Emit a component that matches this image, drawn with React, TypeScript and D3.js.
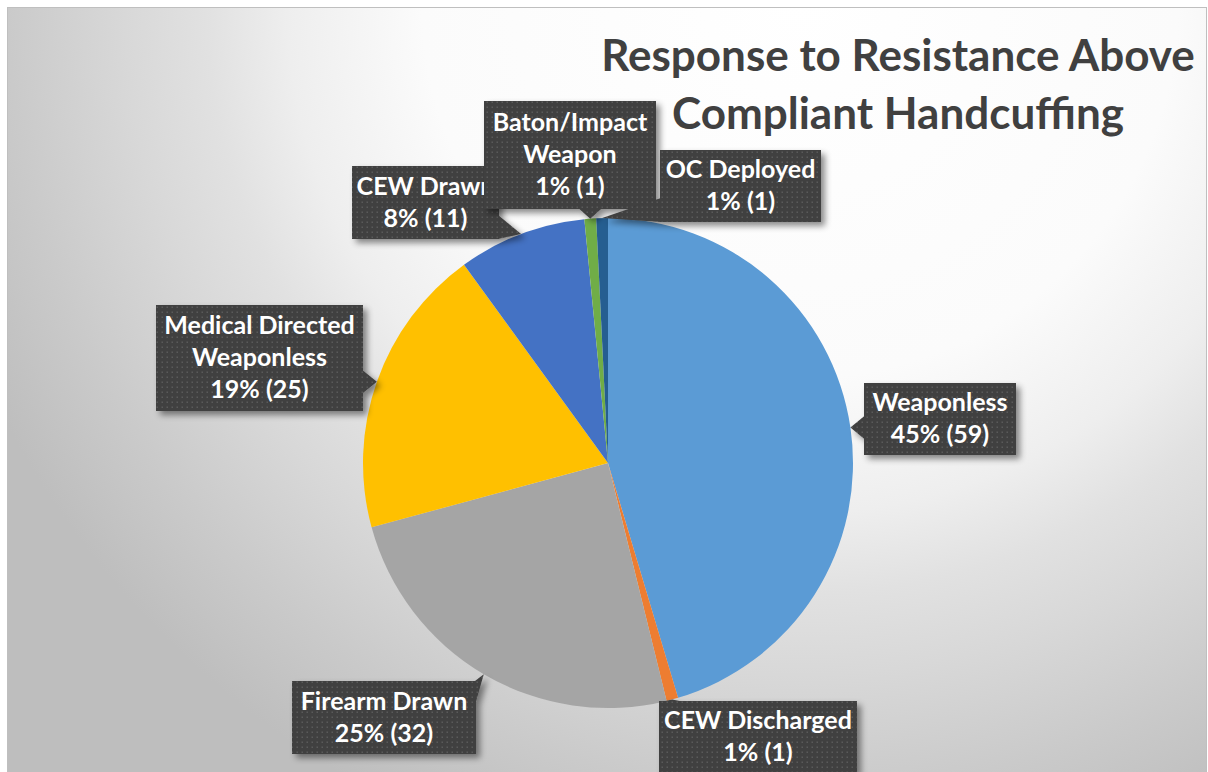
import React from 'react';
import * as d3 from 'd3';

// chart data
const categories = [
  'Weaponless',
  'CEW Discharged',
  'Firearm Drawn',
  'Medical Directed Weaponless',
  'CEW Drawn',
  'Baton/Impact Weapon',
  'OC Deployed',
];
const counts = [59, 1, 32, 25, 11, 1, 1];
const colors = ['#5B9BD5', '#ED7D31', '#A5A5A5', '#FFC000', '#4472C4', '#70AD47', '#255E91'];
// how each category name wraps inside its callout
const labelLines = [
  ['Weaponless'],
  ['CEW Discharged'],
  ['Firearm Drawn'],
  ['Medical Directed', 'Weaponless'],
  ['CEW Drawn'],
  ['Baton/Impact', 'Weapon'],
  ['OC Deployed'],
];
const titleLines = ['Response to Resistance Above', 'Compliant Handcuffing'];

// callout boxes (layout only)
const boxes = [
  { x: 864, y: 383, w: 152, h: 72 },
  { x: 659, y: 701, w: 198, h: 72 },
  { x: 292, y: 681, w: 184, h: 73 },
  { x: 156, y: 305, w: 207, h: 106 },
  { x: 352, y: 166, w: 147, h: 73, clipRight: 13 },
  { x: 484, y: 101, w: 172, h: 108 },
  { x: 660, y: 150, w: 161, h: 72 },
];

const W = 1208;
const H = 772;
const cx = 608;
const cy = 463;
const radius = 245;
const FONT = 'Lato, "Open Sans", sans-serif';
const LINE_H = 32;

// wedge from the box edge to the tip point
function calloutWedge(b: { x: number; y: number; w: number; h: number }, tx: number, ty: number) {
  const dl = b.x - tx, dr = tx - (b.x + b.w), dt = b.y - ty, db = ty - (b.y + b.h);
  const half = 12;
  const clamp = (v: number, lo: number, hi: number) => Math.max(lo, Math.min(hi, v));
  const horiz = Math.max(dl, dr);
  const vert = Math.max(dt, db);
  if (horiz >= vert) {
    const ex = dl > dr ? b.x + 1 : b.x + b.w - 1;
    const y0 = clamp(ty, b.y + half, b.y + b.h - half);
    return `M${ex},${y0 - half}L${tx},${ty}L${ex},${y0 + half}Z`;
  }
  const ey = dt > db ? b.y + 1 : b.y + b.h - 1;
  const x0 = clamp(tx, b.x + half, b.x + b.w - half);
  return `M${x0 - half},${ey}L${tx},${ty}L${x0 + half},${ey}Z`;
}

export default function App() {
  const total = d3.sum(counts);
  const pie = d3.pie<number>().sort(null).value(d => d)(counts);
  const arc = d3.arc<d3.PieArcDatum<number>>().innerRadius(0).outerRadius(radius);

  return (
    <div style={{ position: 'fixed', left: 0, top: 0 }}>
      <svg width={W} height={H} style={{ display: 'block' }}>
        <defs>
          <radialGradient id="bg" gradientUnits="userSpaceOnUse" cx={800} cy={0} r={900}>
            <stop offset="0" stopColor="#ffffff" />
            <stop offset="0.42" stopColor="#fbfbfb" />
            <stop offset="0.57" stopColor="#eeeeee" />
            <stop offset="0.66" stopColor="#e1e1e1" />
            <stop offset="0.75" stopColor="#d8d8d8" />
            <stop offset="0.88" stopColor="#cacaca" />
            <stop offset="1" stopColor="#bebebe" />
          </radialGradient>
          <pattern id="dots" patternUnits="userSpaceOnUse" width={5} height={5}>
            <rect width={5} height={5} fill="#3f3f3f" />
            <rect x={1.5} y={1.5} width={1.5} height={1.5} fill="#5a5a5a" />
          </pattern>
          <filter id="shadow" x="-20%" y="-20%" width="140%" height="150%">
            <feDropShadow dx={4} dy={4} stdDeviation={3} floodColor="#000" floodOpacity={0.45} />
          </filter>
          {boxes.map((b, i) => (
            <clipPath id={`clip${i}`} key={i}>
              <rect x={b.x} y={b.y} width={b.w - (b.clipRight || 0)} height={b.h} />
            </clipPath>
          ))}
        </defs>

        <rect x={0} y={0} width={W} height={H} fill="#ffffff" />
        <rect x={7.5} y={7.5} width={1199} height={H} fill="url(#bg)" stroke="#bfbfbf" strokeWidth={1} />

        {/* title */}
        <g fontFamily={FONT} fontWeight={700} fontSize={44} fill="#404040" textAnchor="middle">
          {titleLines.map((t, i) => (
            <text key={t} x={898} y={71 + i * 58}>{t}</text>
          ))}
        </g>

        {/* slices */}
        <g transform={`translate(${cx},${cy})`}>
          {pie.map((p, i) => (
            <path key={categories[i]} d={arc(p) || ''} fill={colors[i]} />
          ))}
        </g>

        {/* callouts */}
        {pie.map((p, i) => {
          const b = boxes[i];
          const mid = (p.startAngle + p.endAngle) / 2;
          const tx = cx + radius * Math.sin(mid);
          const ty = cy - radius * Math.cos(mid);
          const lines = [...labelLines[i], `${Math.round((p.value / total) * 100)}% (${p.value})`];
          const top = b.y + (b.h - lines.length * LINE_H) / 2;
          return (
            <g key={categories[i]}>
              <g filter="url(#shadow)">
                <rect x={b.x} y={b.y} width={b.w} height={b.h} fill="url(#dots)" />
                <path d={calloutWedge(b, tx, ty)} fill="url(#dots)" />
              </g>
              <g clipPath={`url(#clip${i})`} fontFamily={FONT} fontWeight={700} fontSize={25} fill="#ffffff" textAnchor="middle">
                {lines.map((t, j) => (
                  <text key={j} x={b.x + b.w / 2} y={top + j * LINE_H + 24}>{t}</text>
                ))}
              </g>
            </g>
          );
        })}
      </svg>
    </div>
  );
}
